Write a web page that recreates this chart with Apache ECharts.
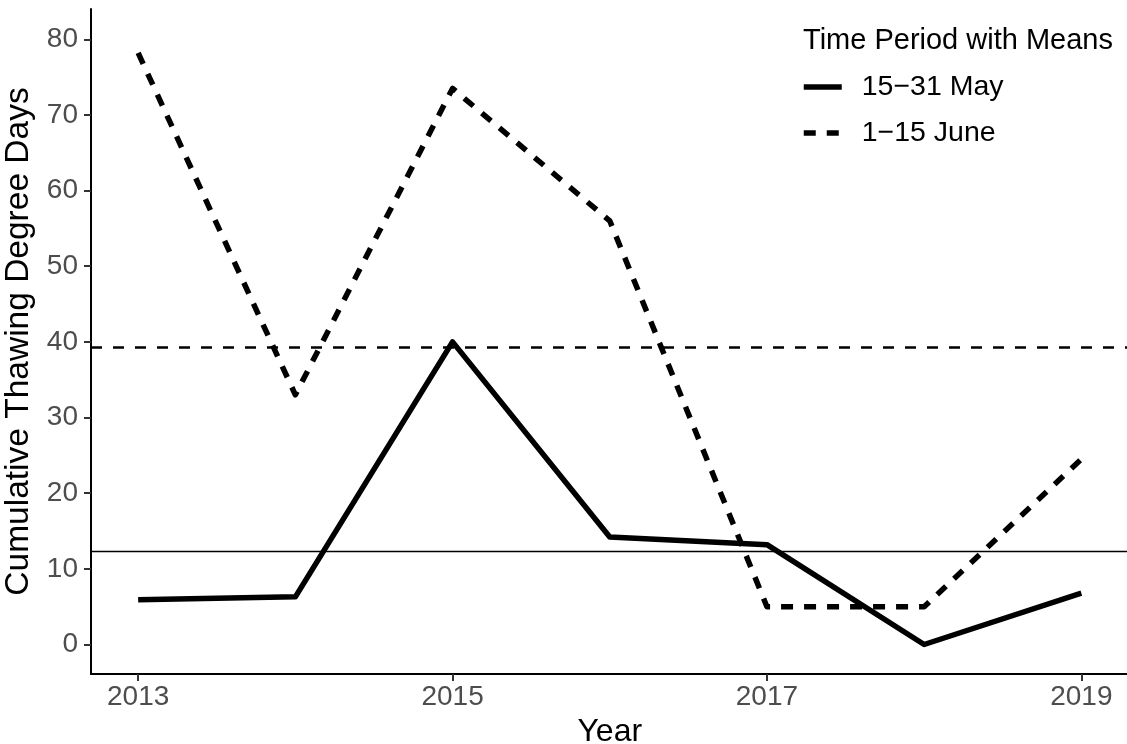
<!DOCTYPE html>
<html>
<head>
<meta charset="utf-8">
<script src="https://cdn.jsdelivr.net/npm/echarts@6/dist/echarts.min.js"></script>
<style>
  html, body { margin: 0; padding: 0; background: #fff; }
  #chart { width: 1127px; height: 744px; }
</style>
</head>
<body>
<div id="chart"></div>
<script>
// Cumulative thawing degree days per year, two seasonal windows
const years = [2013, 2014, 2015, 2016, 2017, 2018, 2019];
const maySeries = [5.9, 6.3, 40.0, 14.2, 13.2, 0.0, 6.8];     // 15−31 May
const juneSeries = [78.2, 33.0, 73.5, 56.0, 5.0, 5.0, 24.5];  // 1−15 June
const xTicks = [2013, 2015, 2017, 2019];
const yTicks = [0, 10, 20, 30, 40, 50, 60, 70, 80];
const seriesNames = ['15−31 May', '1−15 June'];

const mean = arr => arr.reduce((a, b) => a + b, 0) / arr.length;
const pairs = vals => years.map((y, i) => [y, vals[i]]);

const FONT = '"Liberation Sans", Arial, sans-serif';
const dashPattern = [12, 11];

const chart = echarts.init(document.getElementById('chart'), null, { renderer: 'canvas' });

chart.setOption({
  animation: false,
  backgroundColor: '#ffffff',
  textStyle: { fontFamily: FONT },
  title: {
    text: 'Time Period with Means',
    left: 798,
    top: 21,
    textStyle: { fontFamily: FONT, fontSize: 29, fontWeight: 'normal', color: '#000' }
  },
  legend: {
    orient: 'vertical',
    left: 801,
    top: 72,
    padding: 0,
    itemWidth: 38,
    itemHeight: 14,
    itemGap: 16,
    data: seriesNames,
    itemStyle: { color: 'transparent', borderWidth: 0, opacity: 0 },
    lineStyle: { width: 5.5 },
    textStyle: { fontFamily: FONT, fontSize: 28.5, color: '#000', lineHeight: 30, padding: [0, 0, 0, 15] }
  },
  grid: {
    left: 91,
    top: 9,
    right: -1.5,
    bottom: 70,
    containLabel: false,
    outerBoundsMode: 'none'
  },
  xAxis: {
    type: 'value',
    min: 2012.7,
    max: 2019.3,
    name: 'Year',
    nameLocation: 'middle',
    nameGap: 41,
    nameTextStyle: { fontFamily: FONT, fontSize: 32, color: '#000' },
    axisLine: { show: true, onZero: false, lineStyle: { color: '#000', width: 2 } },
    axisTick: { show: true, length: 7, lineStyle: { color: '#333', width: 2 }, customValues: xTicks },
    axisLabel: {
      fontFamily: FONT, fontSize: 28, color: '#4d4d4d', margin: 9,
      customValues: xTicks,
      formatter: v => String(v)
    },
    splitLine: { show: false }
  },
  yAxis: {
    type: 'value',
    min: -3.9,
    max: 84,
    name: 'Cumulative Thawing Degree Days',
    nameLocation: 'middle',
    nameGap: 54,
    nameTextStyle: { fontFamily: FONT, fontSize: 33.5, color: '#000' },
    axisLine: { show: true, onZero: false, lineStyle: { color: '#000', width: 2 } },
    axisTick: { show: true, length: 7, lineStyle: { color: '#333', width: 2 }, customValues: yTicks },
    axisLabel: {
      fontFamily: FONT, fontSize: 28, color: '#4d4d4d', margin: 13,
      customValues: yTicks
    },
    splitLine: { show: false }
  },
  series: [
    {
      name: seriesNames[0],
      type: 'line',
      data: pairs(maySeries),
      symbol: 'none',
      lineStyle: { color: '#000', width: 5.5, type: 'solid', cap: 'butt', join: 'round' },
      itemStyle: { color: '#000' },
      markLine: {
        silent: true,
        symbol: 'none',
        label: { show: false },
        lineStyle: { color: '#000', width: 1.3, type: 'solid' },
        data: [{ yAxis: mean(maySeries) }]
      }
    },
    {
      name: seriesNames[1],
      type: 'line',
      data: pairs(juneSeries),
      symbol: 'none',
      lineStyle: { color: '#000', width: 5.5, type: dashPattern, cap: 'butt', join: 'round' },
      itemStyle: { color: '#000' },
      markLine: {
        silent: true,
        symbol: 'none',
        label: { show: false },
        lineStyle: { color: '#000', width: 2.5, type: [11, 11] },
        data: [{ yAxis: mean(juneSeries) }]
      }
    }
  ]
});
</script>
</body>
</html>
